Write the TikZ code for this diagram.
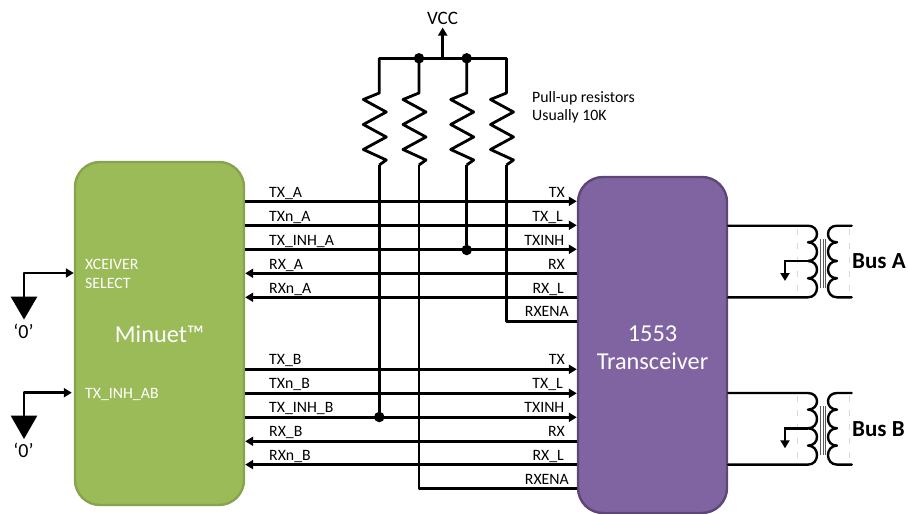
\documentclass[tikz,border=0pt]{standalone}
\usepackage{fontspec}
\setmainfont{Carlito}
\usetikzlibrary{arrows.meta}
\definecolor{mgreen}{HTML}{9BBB59}
\definecolor{mgreenb}{HTML}{87A34C}
\definecolor{tpurple}{HTML}{8064A2}
\definecolor{tpurpleb}{HTML}{5C4776}
\tikzset{
  x=1pt,y=-1pt,
  block/.style={draw,line width=2.4pt,rounded corners=25pt,inner sep=0pt,text=white,align=center},
  wire/.style={line width=2.8pt,draw=black},
  sig/.style={wire,-{Triangle[length=8pt,width=9pt]},shorten >=0pt},
  lbl/.style={inner sep=0pt,font=\fontsize{15.8}{18}\selectfont},
  ll/.style={lbl,anchor=base west},
  rl/.style={lbl,anchor=base east},
  wl/.style={lbl,anchor=base west,text=white},
  dot/.style={circle,fill=black,inner sep=0pt,minimum size=10.5pt},
  gnd/.style={fill=black,draw=none},
  coilw/.style={line width=2.4pt,line cap=round,line join=round},
  corew/.style={line width=0.7pt,draw=black!65},
  ghost/.style={line width=0.5pt,draw=black!15,dash pattern=on 6pt off 8pt},
  zero/.style={inner sep=0pt,font=\fontsize{20}{22}\selectfont},
  busl/.style={inner sep=0pt,anchor=base west,font=\fontsize{23}{26}\selectfont\bfseries},
  bigt/.style={inner sep=0pt,text=white,align=center,font=\fontsize{24.3}{28}\selectfont},
}
\newcommand{\xfmr}[1]{%
  \begin{scope}[yshift=#1]
    \draw[ghost] (797,229) -- (797,295) (849,229) -- (849,295);
    \draw[corew] (820.7,239) -- (820.7,288) (823.2,239) -- (823.2,288) (825.4,239) -- (825.4,288);
    \draw[coilw] (trans.east |- 0,225.7) -- (808,225.7)
      .. controls (820,225.7) and (820,242.3) .. (808,242.3)
      .. controls (820,242.3) and (820,261) .. (808,261)
      .. controls (820,261) and (820,278.3) .. (808,278.3)
      .. controls (820,278.3) and (820,297.3) .. (808,297.3)
      -- (trans.east |- 0,297.3);
    \draw[coilw] (851.7,225.7) -- (837,225.7)
      .. controls (825,225.7) and (825,242.3) .. (837,242.3)
      .. controls (825,242.3) and (825,261) .. (837,261)
      .. controls (825,261) and (825,278.3) .. (837,278.3)
      .. controls (825,278.3) and (825,297.3) .. (837,297.3)
      -- (851.7,297.3);
    \draw[line width=2.4pt,-{Triangle[length=8pt,width=9pt]}] (808,261) -- (785,261) -- (785,281);
  \end{scope}}
\begin{document}
\begin{tikzpicture}
\useasboundingbox (0,0) rectangle (908,514);
\node[block,fill=mgreen,draw=mgreenb,minimum width=169pt,minimum height=343pt] (minuet) at (159.5,333.5) {};
\node[block,fill=tpurple,draw=tpurpleb,minimum width=149pt,minimum height=336pt] (trans) at (652.5,345) {};
\node[bigt] (mname) at (159.5,334.5) {Minuet™};
\node[bigt] (tname) at (652.5,347.5) {1553\\Transceiver};

% signal wires
\foreach \y/\n in {201.3/a1,225.3/a2,249.3/a3,369.3/b1,393.3/b2,417.3/b3}
  \draw[sig] (minuet.east |- 0,\y) -- (trans.west |- 0,\y);
\foreach \y/\n in {273.3/a4,297.3/a5,441.3/b4,464.6/b5}
  \draw[sig] (trans.west |- 0,\y) -- (minuet.east |- 0,\y);

% left labels
\node[ll] (la1) at (269,197.3) {TX\_A};
\node[ll] (la2) at (269,221.3) {TXn\_A};
\node[ll] (la3) at (269,245.3) {TX\_INH\_A};
\node[ll] (la4) at (269,269.3) {RX\_A};
\node[ll] (la5) at (269,293.3) {RXn\_A};
\node[ll] (lb1) at (269,364.8) {TX\_B};
\node[ll] (lb2) at (269,388.8) {TXn\_B};
\node[ll] (lb3) at (269,412.8) {TX\_INH\_B};
\node[ll] (lb4) at (269,436.8) {RX\_B};
\node[ll] (lb5) at (269,460.3) {RXn\_B};
% right labels
\node[rl] (ra1) at (565,197.3) {TX};
\node[rl] (ra2) at (563,221.3) {TX\_L};
\node[rl] (ra3) at (564.5,245.3) {TXINH};
\node[rl] (ra4) at (565,269.3) {RX};
\node[rl] (ra5) at (564,293.3) {RX\_L};
\node[rl] (ra6) at (569,316.8) {RXENA};
\node[rl] (rb1) at (565,364.8) {TX};
\node[rl] (rb2) at (563,388.8) {TX\_L};
\node[rl] (rb3) at (564.5,412.8) {TXINH};
\node[rl] (rb4) at (565,436.8) {RX};
\node[rl] (rb5) at (564,460.3) {RX\_L};
\node[rl] (rb6) at (569,484.3) {RXENA};

% VCC and pull-ups
\node[inner sep=0pt,font=\fontsize{19}{21}\selectfont] (vcc) at (442.5,18) {VCC};
\coordinate (bl) at (379.3,58.3);
\coordinate (br) at (506.5,58.3);
\coordinate (vtap) at (442.7,58.3);
\draw[wire,-{Triangle[length=8pt,width=9pt]}] (vtap) -- (442.7,27.5);
\foreach \x/\n in {379.3/r1,419/r2,466.7/r3,506.5/r4}
  \draw[wire,line join=round] (\x,58.3) -- (\x,93) -- (\x-16,99.5) -- (\x+7,112) -- (\x-16,124.5)
     -- (\x+7,137) -- (\x-16,149.5) -- (\x+7,160) -- (\x,165);
\draw[wire,line cap=round] (bl) -- (br);
\node[dot] (d1) at (419,58.3) {};
\node[dot] (d2) at (466.7,58.3) {};
\node[ll] (pu1) at (532,102) {Pull-up resistors};
\node[ll] (pu2) at (532,120.5) {Usually 10K};

% pull-up continuations
\node[dot] (d3) at (466.7,250) {};
\node[dot] (d4) at (379.3,417) {};
\draw[wire] (379.3,165) -- (d4);
\draw[wire] (466.7,165) -- (d3);
\draw[wire,line join=round] (506.5,165) -- (506.5,321.3) -- (trans.west |- 0,321.3);
\draw[wire,line join=round] (419,165) -- (419,488.3) -- (trans.west |- 0,488.3);

% inside labels
\node[wl] (x1) at (85,269) {XCEIVER};
\node[wl] (x2) at (85,288) {SELECT};
\node[wl] (x3) at (85,398) {TX\_INH\_AB};

% grounds
\coordinate (g1) at (24,297);
\coordinate (g2) at (24,416);
\draw[sig,line join=round] (g1) -- (24,273) -- (minuet.west |- 0,273);
\draw[sig,line join=round,shorten >=2pt] (g2) -- (24,392.7) -- (minuet.west |- 0,392.7);
\fill[gnd] (10.7,296.7) -- (37.3,296.7) -- (24,319.5) -- cycle;
\fill[gnd] (10.7,415.7) -- (37.3,415.7) -- (24,439) -- cycle;
\node[zero] (z1) at (23.5,331) {‘0’};
\node[zero] (z2) at (23.5,450) {‘0’};

% transformers
\xfmr{0pt}
\xfmr{-167.3pt}
\node[busl] (busa) at (852,268.5) {Bus A};
\node[busl] (busb) at (852,436.5) {Bus B};
\end{tikzpicture}
\end{document}
